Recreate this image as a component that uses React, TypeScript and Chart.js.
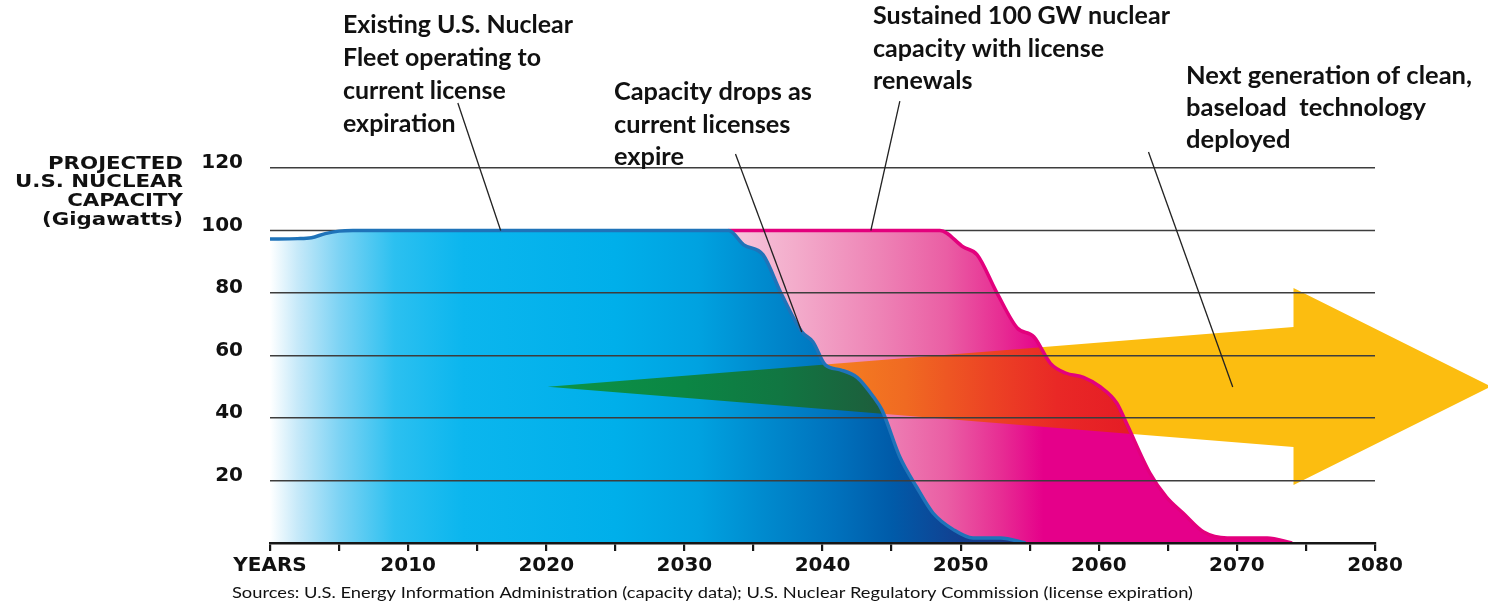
import React, { useEffect, useRef } from 'react';
import { Chart, registerables } from 'chart.js';

Chart.register(...registerables);

// ---------- data ----------
const BLUE_YEARS = [2000, 2002, 2003, 2004, 2005, 2006, 2033.2, 2034.3, 2035.7, 2037.0, 2038.5, 2039.3, 2040.2, 2041.3, 2042.5, 2043.7, 2044.3, 2045.6, 2046.8, 2048.0, 2049.5, 2050.9, 2052.9, 2054.7];
const BLUE_GW = [97.3, 97.4, 97.7, 99.0, 99.8, 100, 100, 95.4, 92.2, 79.9, 67.6, 64.4, 57.0, 55.4, 53.0, 46.7, 42.6, 27.5, 18.0, 9.6, 4.2, 1.6, 1.6, 0];

const MAGENTA_YEARS = [2033.2, 2048.5, 2050.2, 2051.2, 2052.6, 2054.1, 2055.3, 2056.5, 2057.6, 2058.9, 2060.1, 2061.3, 2062.0, 2063.7, 2064.9, 2066.1, 2067.6, 2069.3, 2072.2, 2074.0];
const MAGENTA_GW = [100, 100, 94.7, 92.2, 80.3, 68.8, 66.0, 57.5, 54.4, 53.0, 50.0, 44.8, 38.4, 22.4, 14.7, 9.6, 3.5, 1.6, 1.6, 0];

// arrow outline (year, GW): tip, shaft top, head top, head tip, head bottom, shaft bottom
const ARROW_YEARS = [2020.1, 2074.1, 2074.1, 2088.4, 2074.1, 2074.1];
const ARROW_GW = [50.0, 69.1, 81.6, 50.1, 18.6, 30.7];

const X_MIN = 2000;
const X_MAX = 2080;
const X_STEP = 5;
const Y_MIN = 0;
const Y_MAX = 120;
const Y_STEP = 20;
const FIRST_X_LABEL = 'YEARS';

const Y_TITLE = ['PROJECTED', 'U.S. NUCLEAR', 'CAPACITY', '(Gigawatts)'];
const NOTE_EXISTING = ['Existing U.S. Nuclear', 'Fleet operating to', 'current license', 'expiration'];
const NOTE_DROPS = ['Capacity drops as', 'current licenses', 'expire'];
const NOTE_SUSTAINED = ['Sustained 100 GW nuclear', 'capacity with license', 'renewals'];
const NOTE_NEXT = ['Next generation of clean,', 'baseload  technology', 'deployed'];
const SOURCE_TEXT = 'Sources: U.S. Energy Information Administration (capacity data); U.S. Nuclear Regulatory Commission (license expiration)';

// leader lines (year, GW)
const LEADER_FROM_YEARS = [2013.6, 2033.7, 2045.6, 2063.6];
const LEADER_FROM_GW = [140.8, 124.5, 141.4, 125.1];
const LEADER_TO_YEARS = [2016.7, 2038.5, 2043.5, 2069.7];
const LEADER_TO_GW = [100, 67.5, 100, 49.9];

// ---------- styles ----------
const GRID_COLOR = '#3d3d3d';
const AXIS_COLOR = '#161616';
const BLUE_BORDER = '#1f73b9';
const MAGENTA_BORDER = '#e3007d';
const YELLOW = '#fcbd10';

const BLUE_STOPS: [number, string][] = [
  [2000, '#ffffff'], [2002, '#c6e9f9'], [2005, '#7dd3f4'], [2009, '#2cc0f0'], [2014, '#0bb6ee'],
  [2025, '#00afea'], [2031, '#00a2e0'], [2036, '#0089cd'], [2041, '#0071bc'], [2045, '#005ba9'],
  [2050, '#123f90'], [2055, '#1d3684'],
];
const MAGENTA_STOPS: [number, string][] = [
  [2033, '#f7c9dd'], [2038, '#f3accb'], [2044, '#ee84b6'], [2049, '#ea5ea4'], [2053, '#e72c93'], [2056, '#e5008a'],
];
const GREEN_STOPS: [number, string][] = [
  [2020, '#0c9447'], [2030, '#0b8644'], [2037, '#117642'], [2044, '#1d5e3c'],
];
const ORANGE_STOPS: [number, string][] = [
  [2040, '#f58220'], [2046, '#f06a22'], [2052, '#ec4424'], [2057, '#e92826'], [2062, '#e51d25'],
];

type Block = { lines: string[]; x: number; baselines: number[]; width: number; ref: number; font: string; align: CanvasTextAlign };
const NOTE_FONT = 'bold 25px Lato';
const BLOCKS: Block[] = [
  { lines: NOTE_EXISTING, x: 343, baselines: [33, 66, 99, 132], width: 230, ref: 0, font: NOTE_FONT, align: 'left' },
  { lines: NOTE_DROPS, x: 614, baselines: [100, 133, 165], width: 198, ref: 0, font: NOTE_FONT, align: 'left' },
  { lines: NOTE_SUSTAINED, x: 873, baselines: [24, 57, 89], width: 297, ref: 0, font: NOTE_FONT, align: 'left' },
  { lines: NOTE_NEXT, x: 1186, baselines: [84, 116, 148], width: 286, ref: 0, font: NOTE_FONT, align: 'left' },
  { lines: Y_TITLE, x: 183, baselines: [169, 187, 206, 225], width: 168, ref: 1, font: 'bold 17.5px "DejaVu Sans"', align: 'right' },
  { lines: [SOURCE_TEXT], x: 232, baselines: [598], width: 961, ref: 0, font: '15px Lato', align: 'left' },
];

const px = (chart: any, v: number) => chart.scales.x.getPixelForValue(v);
const py = (chart: any, v: number) => chart.scales.y.getPixelForValue(v);

function hGrad(ctx: CanvasRenderingContext2D, chart: any, stops: [number, string][]) {
  const x0 = px(chart, stops[0][0]);
  const x1 = px(chart, stops[stops.length - 1][0]);
  const g = ctx.createLinearGradient(x0, 0, x1, 0);
  stops.forEach(([yr, c]) => g.addColorStop(Math.min(1, Math.max(0, (px(chart, yr) - x0) / (x1 - x0))), c));
  return g;
}

function arrowPath(ctx: CanvasRenderingContext2D, chart: any) {
  ctx.beginPath();
  ARROW_YEARS.forEach((yr, i) => {
    const x = px(chart, yr);
    const y = py(chart, ARROW_GW[i]);
    if (i === 0) ctx.moveTo(x, y); else ctx.lineTo(x, y);
  });
  ctx.closePath();
}

function areaPath(ctx: CanvasRenderingContext2D, chart: any, index: number) {
  const meta = chart.getDatasetMeta(index);
  const line = meta.dataset;
  const pts = meta.data;
  ctx.beginPath();
  if (line && typeof line.path === 'function') {
    line.path(ctx);
  } else {
    pts.forEach((p: any, i: number) => (i === 0 ? ctx.moveTo(p.x, p.y) : ctx.lineTo(p.x, p.y)));
  }
  const y0 = py(chart, 0);
  ctx.lineTo(pts[pts.length - 1].x, y0);
  ctx.lineTo(pts[0].x, y0);
  ctx.closePath();
}

function drawBlock(ctx: CanvasRenderingContext2D, b: Block) {
  ctx.save();
  ctx.font = b.font;
  const w = ctx.measureText(b.lines[b.ref]).width;
  const sx = b.width / w;
  ctx.fillStyle = '#111';
  ctx.textAlign = b.align;
  ctx.textBaseline = 'alphabetic';
  b.lines.forEach((ln, i) => {
    ctx.save();
    ctx.translate(b.x, b.baselines[i]);
    ctx.scale(sx, 1);
    ctx.fillText(ln, 0, 0);
    ctx.restore();
  });
  ctx.restore();
}

const decorPlugin = {
  id: 'decor',
  beforeDatasetsDraw(chart: any) {
    const ctx = chart.ctx as CanvasRenderingContext2D;
    const a = chart.chartArea;
    ctx.save();
    // 100 GW gridline sits beneath the areas
    const y100 = py(chart, 100);
    ctx.strokeStyle = GRID_COLOR;
    ctx.lineWidth = 1.6;
    ctx.beginPath();
    ctx.moveTo(a.left, y100);
    ctx.lineTo(a.right, y100);
    ctx.stroke();
    // yellow arrow
    arrowPath(ctx, chart);
    ctx.fillStyle = YELLOW;
    ctx.fill();
    ctx.restore();
  },
  beforeDatasetDraw(chart: any, args: any) {
    const ctx = chart.ctx as CanvasRenderingContext2D;
    ctx.save();
    areaPath(ctx, chart, args.index);
    ctx.clip();
    arrowPath(ctx, chart);
    ctx.fillStyle = args.index === 1 ? hGrad(ctx, chart, ORANGE_STOPS) : hGrad(ctx, chart, GREEN_STOPS);
    ctx.fill();
    ctx.restore();
  },
  afterDraw(chart: any) {
    const ctx = chart.ctx as CanvasRenderingContext2D;
    ctx.save();
    ctx.strokeStyle = '#222';
    ctx.lineWidth = 1.3;
    LEADER_FROM_YEARS.forEach((yr, i) => {
      ctx.beginPath();
      ctx.moveTo(px(chart, yr), py(chart, LEADER_FROM_GW[i]));
      ctx.lineTo(px(chart, LEADER_TO_YEARS[i]), py(chart, LEADER_TO_GW[i]));
      ctx.stroke();
    });
    ctx.restore();
    BLOCKS.forEach((b) => drawBlock(ctx, b));
  },
};

export default function App() {
  const ref = useRef<HTMLCanvasElement | null>(null);
  useEffect(() => {
    document.body.style.margin = '0';
    const canvas = ref.current!;
    const chart = new Chart(canvas, {
      type: 'line',
      data: {
        datasets: [
          {
            label: 'Existing fleet',
            data: BLUE_YEARS.map((x, i) => ({ x, y: BLUE_GW[i] })),
            borderColor: BLUE_BORDER,
            borderWidth: 3.5,
            pointRadius: 0,
            cubicInterpolationMode: 'monotone',
            fill: 'origin',
            backgroundColor: (c: any) => {
              const ch = c.chart;
              if (!ch.chartArea) return '#00afea';
              return hGrad(ch.ctx, ch, BLUE_STOPS);
            },
          },
          {
            label: 'With renewals',
            data: MAGENTA_YEARS.map((x, i) => ({ x, y: MAGENTA_GW[i] })),
            borderColor: MAGENTA_BORDER,
            borderWidth: 3.5,
            pointRadius: 0,
            cubicInterpolationMode: 'monotone',
            fill: 'origin',
            backgroundColor: (c: any) => {
              const ch = c.chart;
              if (!ch.chartArea) return '#e5008a';
              return hGrad(ch.ctx, ch, MAGENTA_STOPS);
            },
          },
        ],
      },
      options: {
        animation: false,
        responsive: false,
        devicePixelRatio: 1,
        layout: { padding: { left: 0, right: 113, top: 168, bottom: 0 } },
        plugins: { legend: { display: false }, tooltip: { enabled: false } },
        scales: {
          x: {
            type: 'linear',
            min: X_MIN,
            max: X_MAX,
            afterFit: (s: any) => { s.height = 61; },
            border: { display: true, color: AXIS_COLOR, width: 2.5, z: 1 },
            grid: { drawOnChartArea: false, drawTicks: true, tickLength: 8, color: AXIS_COLOR, lineWidth: 2.2, z: 1 },
            ticks: {
              stepSize: X_STEP,
              autoSkip: false,
              maxRotation: 0,
              padding: 3,
              color: '#111',
              font: { family: '"DejaVu Sans"', weight: 'bold', size: 20 },
              callback: (v: any) => (v === X_MIN ? FIRST_X_LABEL : v % 10 === 0 ? String(v) : ''),
            },
          },
          y: {
            min: Y_MIN,
            max: Y_MAX,
            afterFit: (s: any) => { s.width = 270; },
            border: { display: false },
            grid: {
              drawTicks: false,
              lineWidth: 1.6,
              z: 1,
              color: (c: any) => (c.tick && (c.tick.value === 100 || c.tick.value === 0) ? 'rgba(0,0,0,0)' : GRID_COLOR),
            },
            ticks: {
              stepSize: Y_STEP,
              padding: 27,
              labelOffset: -5,
              color: '#111',
              font: { family: '"DejaVu Sans"', weight: 'bold', size: 20 },
              callback: (v: any) => (v === 0 ? '' : String(v)),
            },
          },
        },
      },
      plugins: [decorPlugin],
    } as any);
    return () => chart.destroy();
  }, []);
  return (
    <div style={{ position: 'fixed', left: 0, top: 0, width: 1488, height: 604, background: '#fff' }}>
      <canvas ref={ref} width={1488} height={604} style={{ display: 'block', width: 1488, height: 604 }} />
    </div>
  );
}
